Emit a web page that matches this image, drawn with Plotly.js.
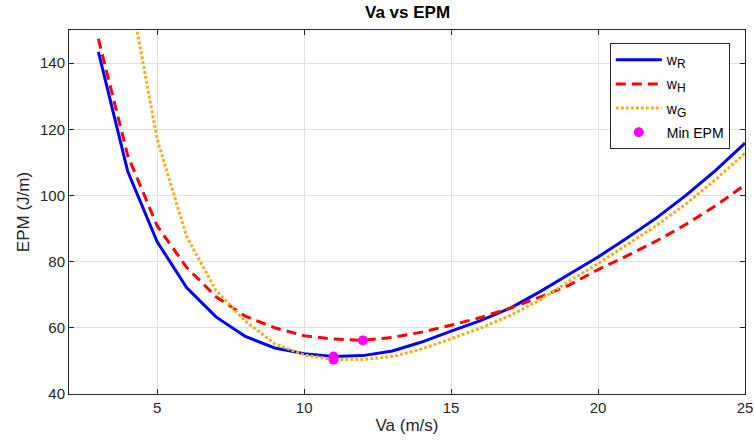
<!DOCTYPE html>
<html>
<head>
<meta charset="utf-8">
<script src="https://cdn.plot.ly/plotly-3.0.1.min.js"></script>
<style>html,body{margin:0;padding:0;background:#fff;}#chart{width:754px;height:445px;}</style>
</head>
<body>
<div id="chart"></div>
<script>
// Airspeed (m/s)
var va = [3, 4, 5, 6, 7, 8, 9, 10, 11, 12, 13, 14, 15, 16, 17, 18, 19, 20, 21, 22, 23, 24, 25];
// EPM (J/m) for each wind model
var epmR = [143.4, 107.2, 86.0, 72.2, 63.3, 57.4, 53.9, 52.2, 51.3, 51.6, 53.0, 55.7, 59.0, 62.2, 65.9, 70.8, 76.1, 81.4, 87.2, 93.3, 100.1, 107.6, 115.8];
var epmH = [147.3, 112.0, 90.8, 78.3, 69.4, 63.5, 60.0, 57.6, 56.6, 56.2, 57.1, 58.7, 60.8, 63.1, 65.9, 69.2, 72.8, 77.6, 81.8, 86.3, 91.3, 96.9, 103.2];
var epmG = [250.0, 165.0, 117.0, 87.6, 71.3, 62.0, 55.2, 51.8, 50.4, 50.4, 51.3, 53.6, 56.7, 59.9, 63.7, 68.3, 74.0, 79.4, 85.2, 91.0, 97.5, 104.8, 112.8];
// Minimum EPM points
var minVa = [11, 12, 11];
var minEpm = [51.3, 56.2, 50.4];
// Legend labels
var names = ['w<sub><span style="font-size:12px">R</span></sub>',
             'w<sub><span style="font-size:12px">H</span></sub>',
             'w<sub><span style="font-size:12px">G</span></sub>',
             'Min EPM'];

var axisColor = '#262626';
var font = 'Liberation Sans, Arial, Helvetica, sans-serif';

var traces = [
  {x: va, y: epmR, mode: 'lines', name: names[0], legendgroup: 'a',
   line: {color: '#0000FF', width: 3}},
  {x: va, y: epmH, mode: 'lines', name: names[1], legendgroup: 'b',
   line: {color: '#FF0000', width: 3, dash: '10px,6px'}},
  {x: va, y: epmG, mode: 'lines', name: names[2], legendgroup: 'c',
   line: {color: '#EDB120', width: 3, dash: '3px,2px'}},
  {x: minVa, y: minEpm, mode: 'markers', name: names[3], legendgroup: 'd',
   marker: {color: '#FF00FF', size: 10}}
];

var layout = {
  width: 754, height: 445,
  margin: {l: 69, r: 9, t: 30, b: 51},
  paper_bgcolor: '#ffffff', plot_bgcolor: '#ffffff',
  font: {family: font, color: axisColor, size: 15},
  title: {text: '<b>Va vs EPM</b>', font: {family: font, size: 17, color: '#000000'},
          x: 0.5405, xanchor: 'center', y: 0.972, yanchor: 'middle'},
  xaxis: {
    range: [2, 25], tickvals: [5, 10, 15, 20, 25],
    showgrid: true, gridcolor: '#dfdfdf', gridwidth: 1,
    zeroline: false, showline: true, linecolor: axisColor, linewidth: 1,
    mirror: 'allticks', ticks: 'inside', ticklen: 5, tickcolor: axisColor,
    tickfont: {size: 15, color: axisColor},
    title: {text: 'Va (m/s)', font: {size: 17, color: axisColor}, standoff: 4}
  },
  yaxis: {
    range: [40, 150], tickvals: [40, 60, 80, 100, 120, 140],
    showgrid: true, gridcolor: '#dfdfdf', gridwidth: 1,
    zeroline: false, showline: true, linecolor: axisColor, linewidth: 1,
    mirror: 'allticks', ticks: 'inside', ticklen: 5, tickcolor: axisColor,
    tickfont: {size: 15, color: axisColor},
    title: {text: 'EPM (J/m)', font: {size: 17, color: axisColor}, standoff: 6}
  },
  legend: {
    x: 0.80, y: 0.964, xanchor: 'left', yanchor: 'top',
    bgcolor: '#ffffff', bordercolor: axisColor, borderwidth: 1,
    font: {size: 14, color: '#000000'}, itemwidth: 46,
    traceorder: 'grouped', tracegroupgap: 3
  },
  showlegend: true
};

Plotly.newPlot('chart', traces, layout, {displayModeBar: false, staticPlot: true});
</script>
</body>
</html>
